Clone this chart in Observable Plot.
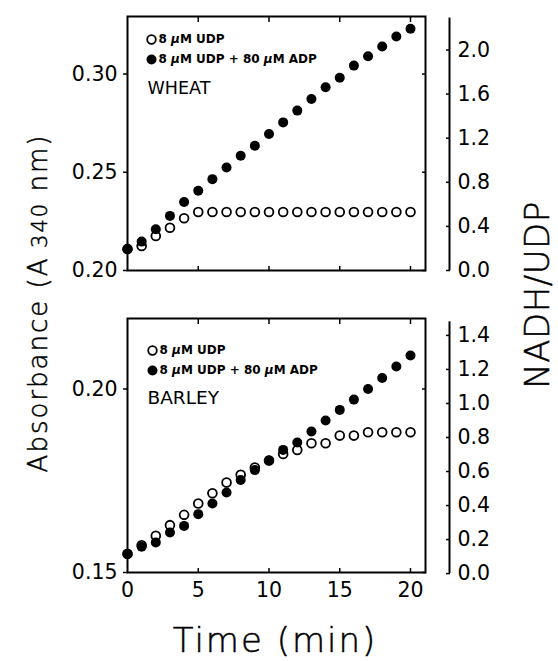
<!DOCTYPE html>
<html>
<head>
<meta charset="utf-8">
<script src="https://cdn.jsdelivr.net/npm/d3@7"></script>
<script src="https://cdn.jsdelivr.net/npm/@observablehq/plot@0.6"></script>
<style>
  html, body { margin: 0; padding: 0; background: #fff; }
  #wrap { position: relative; width: 558px; height: 661px; background: #fff; overflow: hidden; }
  #wrap > svg { position: absolute; left: 0; }
</style>
</head>
<body>
<div id="wrap"></div>
<script>
// ---- data ----
const time = [0,1,2,3,4,5,6,7,8,9,10,11,12,13,14,15,16,17,18,19,20];

const wheatUDP    = [0.2110,0.2125,0.2176,0.2218,0.2266,0.2298,0.2298,0.2298,0.2298,0.2298,0.2298,0.2298,0.2298,0.2298,0.2298,0.2298,0.2298,0.2298,0.2298,0.2298,0.2298];
const wheatUDPADP = [0.2108,0.2147,0.2210,0.2278,0.2349,0.2406,0.2465,0.2524,0.2584,0.2635,0.2695,0.2754,0.2814,0.2873,0.2933,0.2981,0.3043,0.3091,0.3140,0.3191,0.3231];

const barleyUDP    = [0.1551,0.1574,0.1600,0.1629,0.1657,0.1688,0.1716,0.1745,0.1766,0.1786,0.1805,0.1823,0.1834,0.1852,0.1852,0.1873,0.1873,0.1882,0.1882,0.1882,0.1882];
const barleyUDPADP = [0.1550,0.1570,0.1582,0.1609,0.1627,0.1659,0.1688,0.1718,0.1752,0.1779,0.1805,0.1834,0.1854,0.1884,0.1914,0.1943,0.1971,0.2000,0.2030,0.2061,0.2091];

const timeTicks = [0,5,10,15,20];
const innerTimeTicks = [5,10,15,20];
const absTicksWheat = [0.20,0.25,0.30];
const absTicksBarley = [0.15,0.20];
const nadhTicksWheat = [0.0,0.4,0.8,1.2,1.6,2.0];
const nadhTicksBarley = [0.0,0.2,0.4,0.6,0.8,1.0,1.2,1.4];

const legendLabels = ["8 μM UDP", "8 μM UDP + 80 μM ADP"];
const panelNames = ["WHEAT", "BARLEY"];

// ---- helpers ----
const FONT = "DejaVu Sans";
const xDomain = [0, 21.06];

function rows(values) { return time.map((t, i) => ({t, v: values[i]})); }

function panel({height, marginTop, marginBottom, yDomain, absTicks, nadhTicks, nadhBase, nadhScale, nadhTop,
                open, filled, name, leg, showX}) {
  const toAbs = r => nadhBase + r * nadhScale;
  const marks = [
    Plot.frame({stroke: "black", strokeWidth: 2}),
    // left axis
    Plot.axisY({anchor: "left", ticks: absTicks, tickFormat: d3.format(".2f"), tickSize: 4, tickPadding: 6,
                fontSize: 20.5, label: null, strokeWidth: 1.5}),
    // inward ticks on right edge of frame
    Plot.axisY({anchor: "right", ticks: absTicks, tickFormat: () => "", tickSize: 4, dx: -4, label: null, strokeWidth: 1.5}),
    // inward ticks on top and bottom
    Plot.axisX({anchor: "top", ticks: innerTimeTicks, tickFormat: () => "", tickSize: 5, dy: 5, label: null, strokeWidth: 1.5}),
    Plot.axisX({anchor: "bottom", ticks: innerTimeTicks, tickFormat: () => "", tickSize: 4, dy: -4, label: null, strokeWidth: 1.5}),
    // secondary (NADH/UDP) axis
    Plot.ruleX([xDomain[1]], {y1: toAbs(0), y2: toAbs(nadhTop), dx: 24, stroke: "black", strokeWidth: 2}),
    Plot.axisY(nadhTicks.map(toAbs), {anchor: "right", dx: 20, tickSize: 4, tickPadding: 8,
                tickFormat: d => d3.format(".1f")((d - nadhBase) / nadhScale),
                fontSize: 20.5, label: null, strokeWidth: 1.5}),
    // data: open circles below, filled on top
    Plot.dot(rows(open), {x: "t", y: "v", r: 4.4, fill: "white", stroke: "black", strokeWidth: 1.8}),
    Plot.dot(rows(filled), {x: "t", y: "v", r: 5, fill: "black", stroke: "none"}),
    // legend
    Plot.dot([legendLabels[0]], {frameAnchor: "top-left", dx: leg.cx, dy: leg.y1, r: 4.3, fill: "white", stroke: "black", strokeWidth: 1.8}),
    Plot.dot([legendLabels[1]], {frameAnchor: "top-left", dx: leg.cx, dy: leg.y2, r: 5, fill: "black"}),
    Plot.text([legendLabels[0]], {text: d => d, frameAnchor: "top-left", lineAnchor: "middle", dx: leg.tx, dy: leg.y1, textAnchor: "start", fontSize: 12, fontWeight: "bold"}),
    Plot.text([legendLabels[1]], {text: d => d, frameAnchor: "top-left", lineAnchor: "middle", dx: leg.tx, dy: leg.y2, textAnchor: "start", fontSize: 12, fontWeight: "bold"}),
    Plot.text([name], {text: d => d, frameAnchor: "top-left", lineAnchor: "middle", dx: leg.nx, dy: leg.ny, textAnchor: "start", fontSize: leg.nsize})
  ];
  if (showX) {
    marks.push(Plot.axisX({anchor: "bottom", ticks: timeTicks, tickSize: 0, tickPadding: 10, fontSize: 20.5, label: null}));
  }
  return Plot.plot({
    width: 558, height, marginTop, marginBottom, marginLeft: 127, marginRight: 133,
    x: {domain: xDomain}, y: {domain: yDomain},
    style: {fontFamily: FONT, background: "transparent", overflow: "visible", color: "black"},
    marks
  });
}

const topPlot = panel({
  height: 290, marginTop: 16, marginBottom: 20, yDomain: [0.20, 0.3293],
  absTicks: absTicksWheat, nadhTicks: nadhTicksWheat, nadhBase: 0.2, nadhScale: 0.05612, nadhTop: 2.29,
  open: wheatUDP, filled: wheatUDPADP, name: panelNames[0],
  leg: {cx: 24, tx: 31, y1: 23, y2: 43, nx: 20, ny: 72, nsize: 17.5}, showX: false
});
const bottomPlot = panel({
  height: 361, marginTop: 18, marginBottom: 89, yDomain: [0.15, 0.2192],
  absTicks: absTicksBarley, nadhTicks: nadhTicksBarley, nadhBase: 0.1497, nadhScale: 0.04635, nadhTop: 1.48,
  open: barleyUDP, filled: barleyUDPADP, name: panelNames[1],
  leg: {cx: 25, tx: 32, y1: 32, y2: 52, nx: 20, ny: 80, nsize: 18.5}, showX: true
});

const wrap = document.getElementById("wrap");
topPlot.style.top = "0px";
bottomPlot.style.top = "300px";
wrap.appendChild(topPlot);
wrap.appendChild(bottomPlot);

// italic micro sign in legend
for (const el of wrap.querySelectorAll("text")) {
  if (el.children.length === 0 && el.textContent.includes("μ")) {
    const parts = el.textContent.split(/(μ)/);
    el.textContent = "";
    for (const p of parts) {
      if (!p) continue;
      const ts = document.createElementNS("http://www.w3.org/2000/svg", "tspan");
      ts.textContent = p;
      if (p === "μ") ts.setAttribute("font-style", "italic");
      el.appendChild(ts);
    }
  }
}

// axis titles
const ns = "http://www.w3.org/2000/svg";
const lab = document.createElementNS(ns, "svg");
lab.setAttribute("width", 558); lab.setAttribute("height", 661);
lab.style.top = "0px";
lab.setAttribute("font-family", FONT);
lab.innerHTML = `
  <g fill="black" stroke="black" stroke-width="0.5" font-weight="200">
  <text transform="translate(47,303) rotate(-90)" text-anchor="middle" font-size="26" letter-spacing="2">Absorbance (A<tspan font-size="21"> 340</tspan> nm)</text>
  <text transform="translate(549,295) rotate(-90)" text-anchor="middle" font-size="34" letter-spacing="0.5">NADH/UDP</text>
  <text x="275" y="652" text-anchor="middle" font-size="34" letter-spacing="2">Time (min)</text>
  </g>
`;
wrap.appendChild(lab);
</script>
</body>
</html>
